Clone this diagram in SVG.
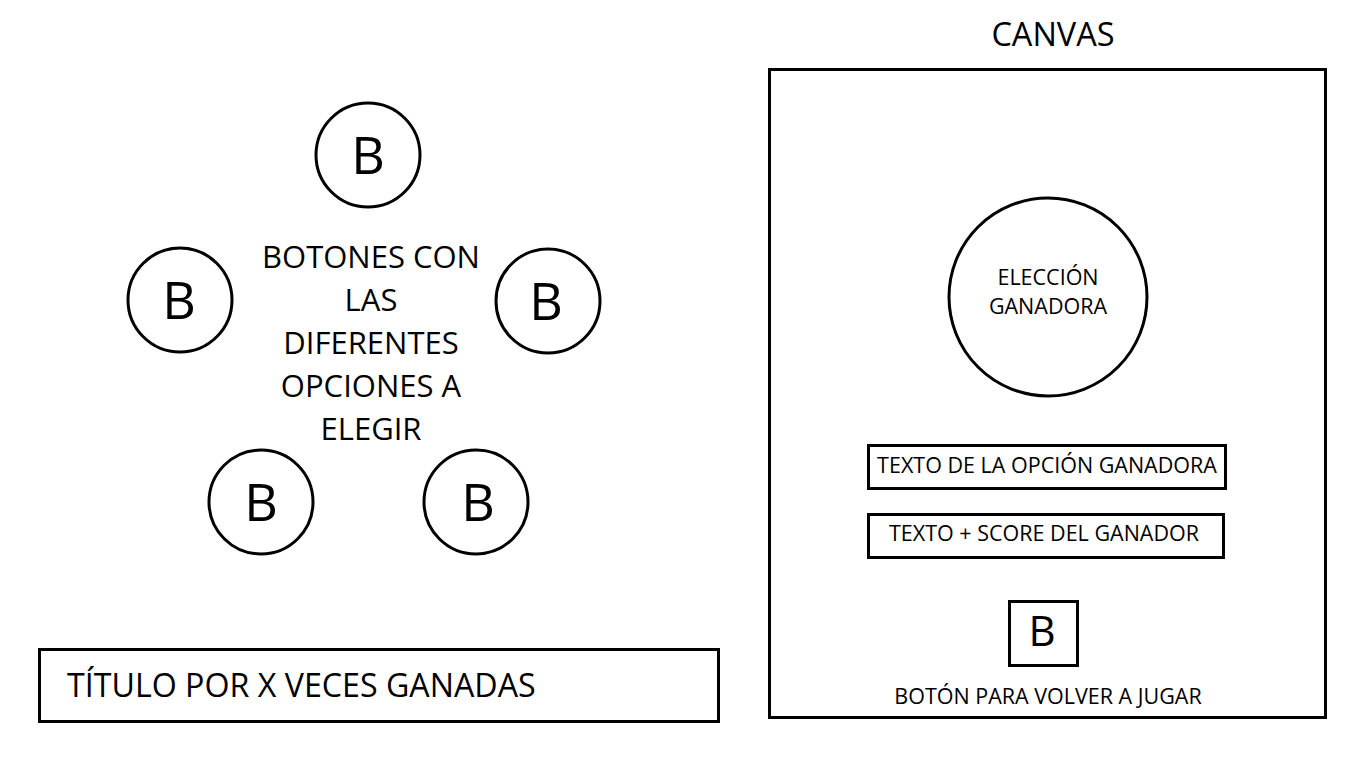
<svg xmlns="http://www.w3.org/2000/svg" width="1366" height="768" viewBox="0 0 1366 768">
<style>
.s{fill:#fff;stroke:#000;stroke-width:3}
text{font-family:"Open Sans","Noto Sans","Liberation Sans",sans-serif;fill:#000;text-anchor:middle}
.b{font-size:52px}
.m{font-size:31px}
.sm{font-size:21.5px}
</style>
<rect width="1366" height="768" fill="#fff"/>
<g id="btn-top"><circle class="s" cx="368" cy="155" r="52"/><text class="b" x="368" y="174">B</text></g>
<g id="btn-left"><circle class="s" cx="180" cy="300" r="52"/><text class="b" x="179" y="319">B</text></g>
<g id="btn-right"><circle class="s" cx="548" cy="301" r="52"/><text class="b" x="546" y="320">B</text></g>
<g id="btn-bl"><circle class="s" cx="261" cy="502" r="52"/><text class="b" x="261" y="521">B</text></g>
<g id="btn-br"><circle class="s" cx="476" cy="502" r="52"/><text class="b" x="478" y="521">B</text></g>
<g id="label-botones" class="m">
<text x="371" y="268">BOTONES CON</text>
<text x="371" y="311">LAS</text>
<text x="371" y="354">DIFERENTES</text>
<text x="371" y="397">OPCIONES A</text>
<text x="371" y="440">ELEGIR</text>
</g>
<g id="titulo"><rect class="s" x="39.5" y="649.5" width="679" height="72"/><text x="67" y="697" style="text-anchor:start;font-size:32.2px">TÍTULO POR X VECES GANADAS</text></g>
<g id="canvas-label"><text x="1053" y="46" style="font-size:32.5px">CANVAS</text></g>
<g id="canvas"><rect class="s" x="769.5" y="69.5" width="556" height="648"/></g>
<g id="eleccion"><circle class="s" cx="1048" cy="297" r="99"/><text class="sm" x="1048" y="285">ELECCIÓN</text><text class="sm" x="1048" y="314">GANADORA</text></g>
<g id="texto-opcion"><rect class="s" x="868.5" y="445.5" width="357" height="43"/><text class="sm" x="1047" y="473">TEXTO DE LA OPCIÓN GANADORA</text></g>
<g id="texto-score"><rect class="s" x="868.5" y="514.5" width="355" height="43"/><text class="sm" x="1044" y="541">TEXTO + SCORE DEL GANADOR</text></g>
<g id="btn-volver"><rect class="s" x="1009.5" y="601.5" width="68" height="64"/><text x="1042" y="646" style="font-size:42px">B</text></g>
<g id="label-volver"><text class="sm" x="1048" y="704">BOTÓN PARA VOLVER A JUGAR</text></g>
<g id="connectors"/>
</svg>
